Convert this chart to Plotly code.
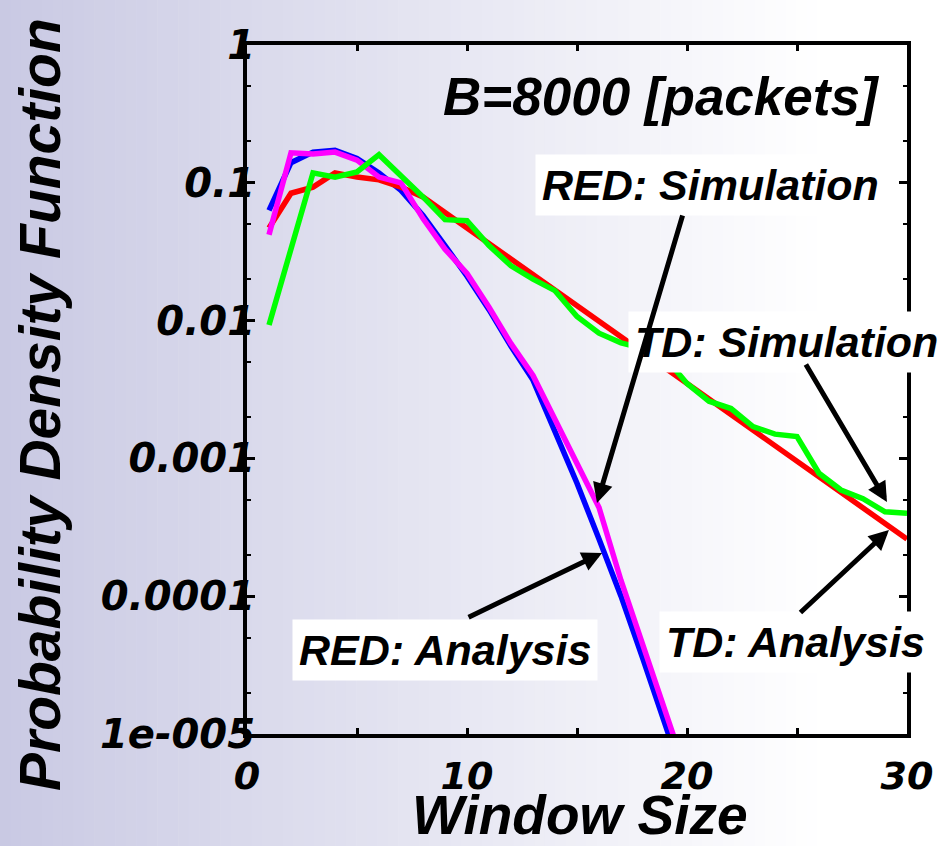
import plotly.graph_objects as go

# ---------------- data ----------------
window_td = list(range(1, 31))
window_red = list(range(1, 21))

td_analysis = [0.047, 0.084, 0.093, 0.118, 0.11, 0.105, 0.093, 0.079, 0.061, 0.047,
               0.036, 0.0278, 0.0214, 0.0165, 0.0127, 0.0098, 0.0076, 0.0058, 0.0045, 0.0035,
               0.0027, 0.0021, 0.0016, 0.00123, 0.00095, 0.00073, 0.00056, 0.00043, 0.00033, 0.00026]

td_simulation = [0.0093, 0.033, 0.118, 0.11, 0.12, 0.16, 0.114, 0.079, 0.054, 0.053,
                 0.035, 0.025, 0.020, 0.0165, 0.0107, 0.0081, 0.0069, 0.0063, 0.0054, 0.0035,
                 0.0026, 0.0023, 0.0017, 0.0015, 0.00144, 0.00078, 0.00059, 0.00051, 0.00041, 0.0004]

red_analysis = [0.063, 0.14, 0.167, 0.172, 0.15, 0.118, 0.088, 0.058, 0.035, 0.021,
                0.012, 0.0065, 0.0037, 0.0016, 0.00066, 0.00026, 0.0001, 3.5e-5, 1.25e-5, 4e-6]

red_simulation = [0.042, 0.165, 0.162, 0.167, 0.146, 0.11, 0.10, 0.055, 0.033, 0.022,
                  0.0125, 0.0068, 0.0040, 0.0019, 0.0009, 0.00044, 0.00013, 4.3e-5, 1.5e-5, 5e-6]

y_tickvals = [1, 0.1, 0.01, 0.001, 0.0001, 0.00001]
y_ticktext = ["1", "0.1", "0.01", "0.001", "0.0001", "1e-005"]
x_tickvals = [0, 10, 20, 30]
x_ticktext = ["0", "10", "20", "30"]

x_title = "Window Size"
y_title = "Probability Density Function"

# ---------------- layout geometry ----------------
W, H = 943, 846
ML, MR, MT, MB = 247, 36, 45, 112
PW = W - ML - MR
PH = H - MT - MB


def pxx(px):
    return (px - ML) / PW


def pxy(py):
    return (H - MB - py) / PH


fig = go.Figure()

fig.add_trace(go.Scatter(x=window_red, y=red_analysis, mode="lines",
                         line=dict(color="#0000ff", width=5.5), name="RED: Analysis"))
fig.add_trace(go.Scatter(x=window_td, y=td_analysis, mode="lines",
                         line=dict(color="#ff0000", width=5.5), name="TD: Analysis"))
fig.add_trace(go.Scatter(x=window_red, y=red_simulation, mode="lines",
                         line=dict(color="#ff00ff", width=5.5), name="RED: Simulation"))
fig.add_trace(go.Scatter(x=window_td, y=td_simulation, mode="lines",
                         line=dict(color="#00ff00", width=5.5), name="TD: Simulation"))

# background gradient (left lavender -> right white)
shapes = []
N = 90
c0 = (201, 201, 227)
fade_end = 820
for i in range(N):
    x0p = W * i / N
    x1p = W * (i + 1) / N
    mid = (x0p + x1p) / 2
    t = min(mid / fade_end, 1.0)
    col = tuple(round(c0[k] + (255 - c0[k]) * t) for k in range(3))
    shapes.append(dict(type="rect", xref="paper", yref="paper",
                       x0=pxx(x0p), x1=pxx(x1p + 0.6), y0=pxy(H), y1=pxy(0),
                       fillcolor="rgb(%d,%d,%d)" % col, line=dict(width=0), layer="below"))

ytick_font = dict(family="DejaVu Sans", size=40, color="black", weight="bold", style="italic")
xtick_font = dict(family="DejaVu Sans", size=38, color="black", weight="bold", style="italic")
ytitle_font = dict(family="Liberation Sans", size=57, color="black", weight="bold", style="italic")
xtitle_font = dict(family="Liberation Sans", size=55, color="black", weight="bold", style="italic")
lab_font = dict(family="Liberation Sans", size=43, color="black", weight="bold", style="italic")

annotations = []
# text labels
for txt, cx, cy in [("RED: Simulation", 710, 185), ("TD: Simulation", 786, 342),
                    ("RED: Analysis", 445, 650), ("TD: Analysis", 795, 642)]:
    annotations.append(dict(text=txt, xref="paper", yref="paper", x=pxx(cx), y=pxy(cy),
                            showarrow=False, bgcolor="white", borderpad=6,
                            font=lab_font, xanchor="center", yanchor="middle"))
annotations.append(dict(text="B=8000 [packets]", xref="paper", yref="paper",
                        x=pxx(882), y=pxy(96), showarrow=False, xanchor="right",
                        yanchor="middle",
                        font=dict(family="Liberation Sans", size=53, color="black",
                                  weight="bold", style="italic")))
# axis titles
annotations.append(dict(text=x_title, xref="paper", yref="paper", x=pxx(580), y=pxy(815),
                        showarrow=False, xanchor="center", yanchor="middle", font=xtitle_font))
annotations.append(dict(text=y_title, xref="paper", yref="paper", x=pxx(40), y=pxy(405),
                        showarrow=False, xanchor="center", yanchor="middle", textangle=-90,
                        font=ytitle_font))
# arrows (tip in data coords, tail as pixel offset)
for tipx, tipy, ax, ay in [(15.91, -3.324, 86, -289), (29.09, -3.316, -82, -139),
                           (16.14, -3.686, -135, 65), (29.18, -3.519, -90, 84)]:
    annotations.append(dict(text="", x=tipx, y=tipy, xref="x", yref="y", ax=ax, ay=ay,
                            showarrow=True, arrowhead=2, arrowsize=0.8, arrowwidth=5,
                            arrowcolor="black"))

fig.update_layout(
    width=W, height=H,
    margin=dict(l=ML, r=MR, t=MT, b=MB, autoexpand=False),
    paper_bgcolor="white", plot_bgcolor="rgba(0,0,0,0)",
    showlegend=False,
    shapes=shapes,
    annotations=annotations,
    xaxis=dict(range=[0, 30], tickvals=x_tickvals, ticktext=x_ticktext,
               ticks="inside", ticklen=6, tickwidth=3, tickcolor="black",
               minor=dict(dtick=5, ticks="inside", ticklen=6, tickwidth=3, tickcolor="black"),
               showline=True, linewidth=4, linecolor="black", mirror="ticks",
               showgrid=False, zeroline=False, tickfont=xtick_font, ticklabelstandoff=5),
    yaxis=dict(type="log", range=[-5, 0], tickvals=y_tickvals, ticktext=y_ticktext,
               ticks="inside", ticklen=8, tickwidth=3, tickcolor="black",
               minor=dict(ticks="inside", ticklen=4, tickwidth=2, tickcolor="black",
                          showgrid=False),
               showline=True, linewidth=4, linecolor="black", mirror="ticks",
               showgrid=False, zeroline=False, tickfont=ytick_font, ticklabelstandoff=-20),
)

fig.write_html("out.html", config={"displayModeBar": False},
               post_script="document.body.style.margin='0';document.body.style.padding='0';")
